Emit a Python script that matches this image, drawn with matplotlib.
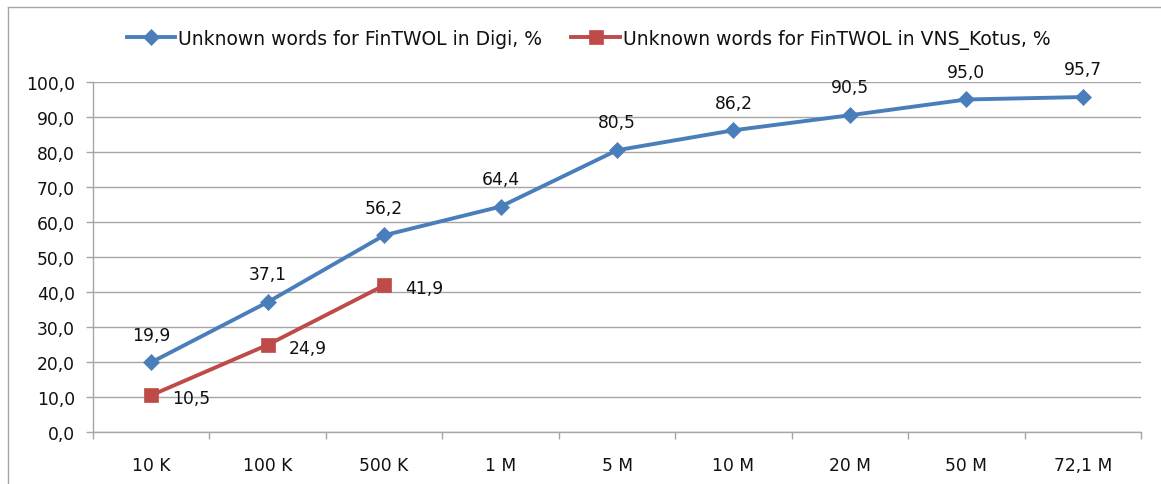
import numpy as np
import matplotlib.pyplot as plt
from matplotlib.lines import Line2D

categories = ['10 K', '100 K', '500 K', '1 M', '5 M', '10 M', '20 M', '50 M', '72,1 M']
digi = [19.9, 37.1, 56.2, 64.4, 80.5, 86.2, 90.5, 95.0, 95.7]
kotus = [10.5, 24.9, 41.9]
digi_name = 'Unknown words for FinTWOL in Digi, %'
kotus_name = 'Unknown words for FinTWOL in VNS_Kotus, %'

blue = '#4a7ebb'
red = '#be4b48'
grid_c = '#a6a6a6'

plt.rcParams['font.family'] = ['DejaVu Sans']
plt.rcParams['font.size'] = 12.3

fig = plt.figure(figsize=(11.61, 4.85), dpi=100)
ax = fig.add_axes([0.0801, 0.1072, 0.9027, 0.7217])

x = np.arange(len(categories))
ax.plot(x, digi, color=blue, lw=2.8, marker='D', ms=8.5, mew=0.5, label=digi_name, zorder=3)
ax.plot(x[:len(kotus)], kotus, color=red, lw=2.8, marker='s', ms=10.5, mew=0.5, label=kotus_name, zorder=3)

for xi, v in zip(x, digi):
    ax.annotate(f'{v:.1f}'.replace('.', ','), (xi, v), xytext=(0, 20), textcoords='offset points',
                ha='center', va='center', color='#111111')
for xi, v in zip(x, kotus):
    ax.annotate(f'{v:.1f}'.replace('.', ','), (xi, v), xytext=(29, -2), textcoords='offset points',
                ha='center', va='center', color='#111111')

ax.set_xlim(-0.5, len(categories) - 0.5)
ax.set_ylim(0, 100)
ax.set_yticks(np.arange(0, 101, 10))
ax.set_yticklabels([f'{t:.1f}'.replace('.', ',') for t in np.arange(0, 101, 10)])
ax.set_xticks(x)
ax.set_xticklabels(categories)
ax.set_xticks(np.arange(-0.5, len(categories), 1), minor=True)
ax.tick_params(axis='x', which='major', length=0, pad=17, labelcolor='#111111')
ax.tick_params(axis='x', which='minor', length=5, color=grid_c, width=1)
ax.tick_params(axis='y', length=5, color=grid_c, width=1, pad=8, labelcolor='#111111')

ax.grid(axis='y', color=grid_c, lw=1)
ax.set_axisbelow(True)
for s in ['top', 'right']:
    ax.spines[s].set_visible(False)
for s in ['left', 'bottom']:
    ax.spines[s].set_color(grid_c)
    ax.spines[s].set_linewidth(1)

handles = [Line2D([], [], color=blue, lw=2.8, marker='D', ms=8.5, mew=0.5),
           Line2D([], [], color=red, lw=2.8, marker='s', ms=10.5, mew=0.5)]
leg = fig.legend(handles, [digi_name, kotus_name], loc='center', bbox_to_anchor=(0.507, 0.9175),
                 ncol=2, frameon=False, handlelength=2.6, handletextpad=0.15, columnspacing=1.55,
                 fontsize=13.5)
for t in leg.get_texts():
    t.set_color('#111111')

# chart frame
fig.add_artist(Line2D([8 / 1161, 1], [1 - 8 / 485, 1 - 8 / 485], color=grid_c, lw=1))
fig.add_artist(Line2D([8 / 1161, 8 / 1161], [0, 1 - 8 / 485], color=grid_c, lw=1))

fig.savefig('out.png', dpi=100)
